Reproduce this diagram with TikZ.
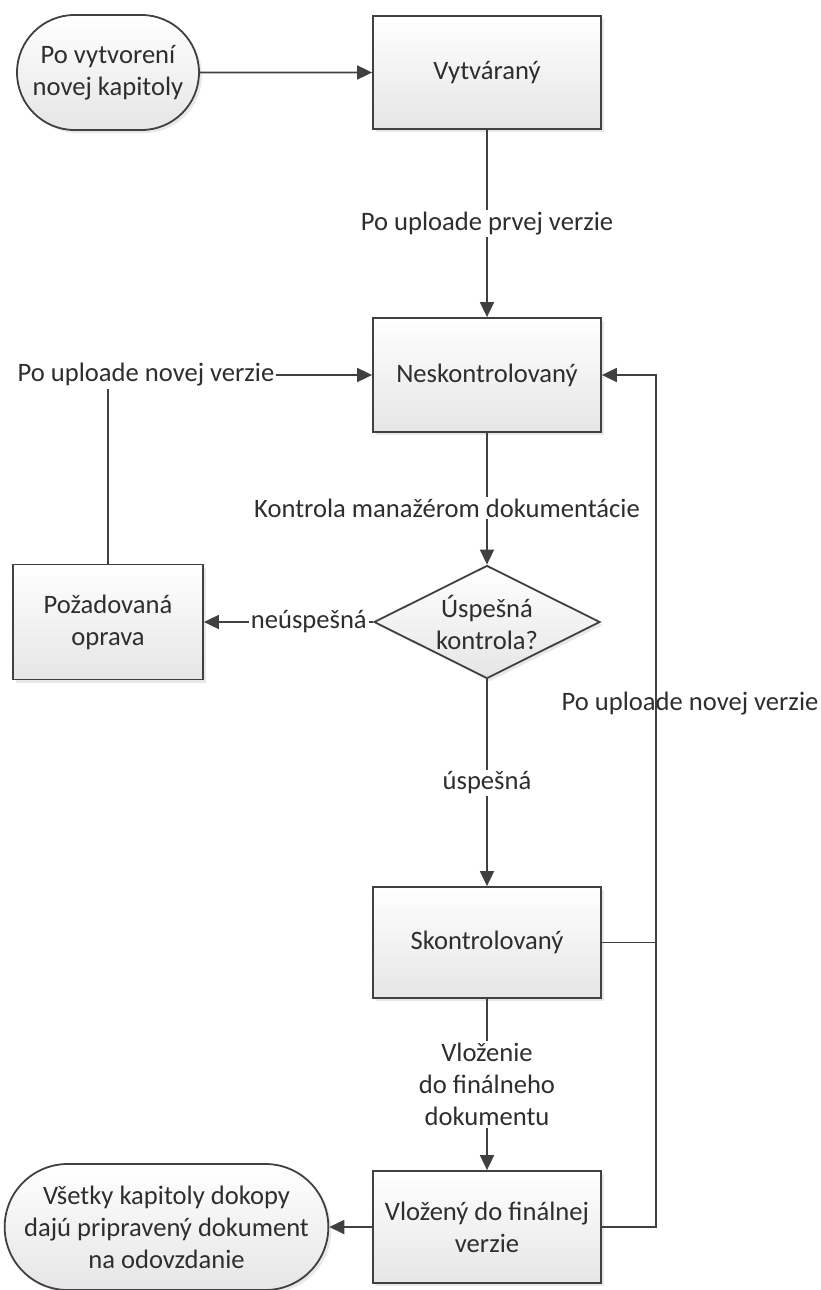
\documentclass[tikz,border=0pt]{standalone}
\usepackage{fontspec}
\setmainfont{Carlito}
\usetikzlibrary{shapes.geometric,shapes.misc,arrows.meta,shadows}
\definecolor{linegray}{HTML}{404040}
\definecolor{textgray}{HTML}{2E2E2E}
\tikzset{
	box/.style={rectangle, draw=linegray, line width=0.9pt, top color=white, bottom color=black!10,
		drop shadow={shadow xshift=1.5pt, shadow yshift=-1.5pt, fill=black!18},
		text=textgray, align=center, inner sep=2pt},
	term/.style={box, rounded rectangle},
	decision/.style={box, diamond, aspect=2, inner sep=0pt},
	lbl/.style={fill=white, text=textgray, align=center, inner sep=1pt},
	flow/.style={draw=linegray, line width=0.9pt, -{Triangle[length=7.5pt,width=7pt]}},
	plain/.style={draw=linegray, line width=0.9pt}
}
\begin{document}
\begin{tikzpicture}[x=0.5pt, y=-0.5pt, font=\fontsize{13.3pt}{16pt}\selectfont]
				\useasboundingbox (0,0) rectangle (820,1290);
				\node[term, minimum width=95pt, minimum height=57.5pt] (start) at (108,72.5) {Po vytvorení\\novej kapitoly};
				\node[box, minimum width=114pt, minimum height=56.5pt] (vytv) at (487,72.5) {Vytváraný};
				\node[box, minimum width=114pt, minimum height=57pt] (nesk) at (487,375) {Neskontrolovaný};
				\node[decision, minimum width=113pt, minimum height=56.5pt] (rozh) at (487,622) {Úspešná\\kontrola?};
				\node[box, minimum width=95pt, minimum height=57.5pt] (oprava) at (108,622) {Požadovaná\\oprava};
				\node[box, minimum width=114pt, minimum height=55.5pt] (skon) at (487,942.5) {Skontrolovaný};
				\node[box, minimum width=114pt, minimum height=56pt] (vloz) at (487,1227) {Vložený do finálnej\\verzie};
				\node[term, minimum width=153.5pt, minimum height=63pt] (koniec) at (166.5,1227) {Všetky kapitoly dokopy\\dajú pripravený dokument\\na odovzdanie};
				\coordinate (bus) at (656,942.5);

				\path[flow] (start) -- (vytv);
				\path[flow] (vytv) -- (nesk) node[lbl, midway] {Po uploade prvej verzie};
				\path[flow] (nesk) -- (rozh) node[lbl, pos=0.57, xshift=-20pt] {Kontrola manažérom dokumentácie};
				\path[flow] (rozh) -- (oprava) node[lbl, pos=0.38] {neúspešná};
				\path[flow] (oprava.north) |- (nesk.west) node[lbl, pos=0.5, xshift=19pt] {Po uploade novej verzie};
				\path[flow] (rozh) -- (skon) node[lbl, midway] {úspešná};
				\path[flow] (skon) -- (vloz) node[lbl, midway] {Vloženie\\do finálneho\\dokumentu};
				\path[flow] (skon.east) -- (bus) |- (nesk.east);
				\path[plain] (vloz.east) -| (bus);
				\path[flow] (vloz) -- (koniec);
				\node[text=textgray] (upload) at (690,704) {Po uploade novej verzie};
			\end{tikzpicture}
\end{document}
